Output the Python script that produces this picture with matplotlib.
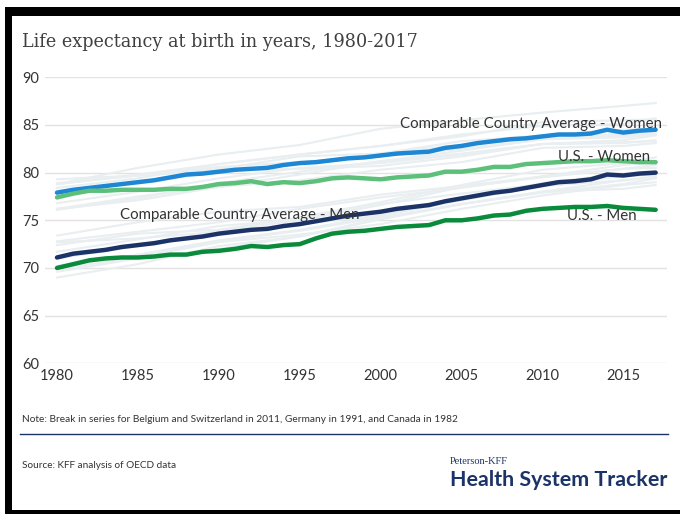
import numpy as np
import matplotlib
matplotlib.use("Agg")
from matplotlib import pyplot as plt
from matplotlib.patches import Rectangle

# years for the highlighted series
years = np.arange(1980, 2018)

cca_women = [77.9, 78.2, 78.4, 78.6, 78.8, 79.0, 79.2, 79.5, 79.8, 79.9,
             80.1, 80.3, 80.4, 80.5, 80.8, 81.0, 81.1, 81.3, 81.5, 81.6,
             81.8, 82.0, 82.1, 82.2, 82.6, 82.8, 83.1, 83.3, 83.5, 83.6,
             83.8, 84.0, 84.0, 84.1, 84.5, 84.2, 84.4, 84.5]
cca_men = [71.1, 71.5, 71.7, 71.9, 72.2, 72.4, 72.6, 72.9, 73.1, 73.3,
           73.6, 73.8, 74.0, 74.1, 74.4, 74.6, 74.9, 75.2, 75.5, 75.7,
           75.9, 76.2, 76.4, 76.6, 77.0, 77.3, 77.6, 77.9, 78.1, 78.4,
           78.7, 79.0, 79.1, 79.3, 79.8, 79.7, 79.9, 80.0]
us_women = [77.4, 77.8, 78.1, 78.1, 78.2, 78.2, 78.2, 78.3, 78.3, 78.5,
            78.8, 78.9, 79.1, 78.8, 79.0, 78.9, 79.1, 79.4, 79.5, 79.4,
            79.3, 79.5, 79.6, 79.7, 80.1, 80.1, 80.3, 80.6, 80.6, 80.9,
            81.0, 81.1, 81.2, 81.2, 81.3, 81.2, 81.1, 81.1]
us_men = [70.0, 70.4, 70.8, 71.0, 71.1, 71.1, 71.2, 71.4, 71.4, 71.7,
          71.8, 72.0, 72.3, 72.2, 72.4, 72.5, 73.1, 73.6, 73.8, 73.9,
          74.1, 74.3, 74.4, 74.5, 75.0, 75.0, 75.2, 75.5, 75.6, 76.0,
          76.2, 76.3, 76.4, 76.4, 76.5, 76.3, 76.2, 76.1]

# individual comparable countries (background lines)
country_years = [1980, 1985, 1990, 1995, 2000, 2005, 2010, 2015, 2017]
countries_women = {
    "Australia":   [78.1, 78.9, 80.1, 81.0, 82.0, 83.3, 83.9, 84.5, 84.6],
    "Austria":     [76.1, 77.3, 78.9, 80.1, 81.2, 82.3, 83.5, 83.7, 84.0],
    "Belgium":     [76.8, 78.0, 79.4, 80.5, 81.0, 81.9, 83.0, 83.4, 83.9],
    "Canada":      [78.9, 79.7, 80.6, 81.1, 81.7, 82.5, 83.5, 83.9, 84.0],
    "France":      [78.4, 79.4, 80.9, 81.9, 82.8, 83.8, 85.3, 85.5, 85.6],
    "Germany":     [76.2, 77.5, 78.5, 79.8, 81.2, 82.0, 83.0, 83.1, 83.4],
    "Japan":       [78.8, 80.5, 81.9, 82.9, 84.6, 85.5, 86.3, 87.0, 87.3],
    "Netherlands": [79.3, 79.7, 80.2, 80.4, 80.7, 81.7, 83.0, 83.2, 83.3],
    "Sweden":      [78.8, 79.7, 80.4, 81.7, 82.0, 82.9, 83.6, 84.1, 84.1],
    "Switzerland": [78.8, 79.8, 80.9, 81.9, 82.8, 84.0, 84.9, 85.1, 85.7],
    "UK":          [76.2, 77.1, 78.5, 79.2, 80.3, 81.1, 82.6, 82.8, 83.1],
}
countries_men = {
    "Australia":   [71.0, 72.3, 73.9, 75.0, 76.6, 78.5, 79.5, 80.4, 80.5],
    "Austria":     [69.0, 70.4, 72.3, 73.3, 75.2, 76.7, 77.9, 78.8, 79.4],
    "Belgium":     [69.9, 71.1, 72.7, 73.5, 74.6, 76.2, 77.6, 78.7, 79.0],
    "Canada":      [71.7, 73.0, 74.4, 75.1, 76.7, 77.8, 78.8, 79.6, 79.8],
    "France":      [70.2, 71.3, 72.8, 73.9, 75.3, 76.7, 78.0, 79.2, 79.6],
    "Germany":     [69.6, 71.0, 72.0, 73.3, 75.1, 76.7, 78.0, 78.3, 78.7],
    "Japan":       [73.4, 74.8, 75.9, 76.4, 77.7, 78.6, 79.6, 80.8, 81.1],
    "Netherlands": [72.7, 73.1, 73.8, 74.6, 75.5, 77.2, 78.9, 79.9, 80.2],
    "Sweden":      [72.8, 73.8, 74.8, 76.2, 77.4, 78.4, 79.6, 80.4, 80.8],
    "Switzerland": [72.4, 73.6, 74.0, 75.3, 76.9, 78.7, 80.3, 81.0, 81.6],
    "UK":          [70.2, 71.4, 72.9, 74.0, 75.5, 77.1, 78.6, 79.2, 79.5],
}

yticks = [60, 65, 70, 75, 80, 85, 90]
xticks = [1980, 1985, 1990, 1995, 2000, 2005, 2010, 2015]

navy = "#1c3368"
txt = "#333333"
sans = "Lato"

fig = plt.figure(figsize=(6.8, 5.14), dpi=100)
W, H = 680.0, 514.0
ax = fig.add_axes([45/W, 1-363.3/H, (667-45)/W, (363.3-77.3)/H])

for name, vals in countries_women.items():
    ax.plot(country_years, vals, color="#e9eef1", lw=1.5, zorder=1)
for name, vals in countries_men.items():
    ax.plot(country_years, vals, color="#e9eef1", lw=1.5, zorder=1)

ax.plot(years, cca_women, color="#1d87d3", lw=3.2, zorder=3, solid_capstyle="round")
ax.plot(years, us_women, color="#5cc07a", lw=3.2, zorder=3, solid_capstyle="round")
ax.plot(years, cca_men, color=navy, lw=3.2, zorder=3, solid_capstyle="round")
ax.plot(years, us_men, color="#0a8a3b", lw=3.2, zorder=3, solid_capstyle="round")

ax.text(2017.4, 85.1, "Comparable Country Average - Women", ha="right", va="center",
        fontsize=10.8, color=txt, family=sans, zorder=4)
ax.text(2016.65, 81.6, "U.S. - Women", ha="right", va="center",
        fontsize=10.8, color=txt, family=sans, zorder=4)
ax.text(1983.9, 75.6, "Comparable Country Average - Men", ha="left", va="center",
        fontsize=10.8, color=txt, family=sans, zorder=4)
ax.text(2015.85, 75.4, "U.S. - Men", ha="right", va="center",
        fontsize=10.8, color=txt, family=sans, zorder=4)

ax.set_xlim(1980 - 12/16.18, 1980 + 610/16.18)
ax.set_ylim(60, 90)
ax.set_yticks(yticks)
ax.set_xticks(xticks)
ax.grid(axis="y", color="#e2e2e2", lw=1)
ax.set_axisbelow(True)
for s in ax.spines.values():
    s.set_visible(False)
ax.tick_params(length=0, labelsize=10.5, labelcolor=txt, pad=4)
for lab in ax.get_xticklabels() + ax.get_yticklabels():
    lab.set_family(sans)

fig.text(22/W, 1-42/H, "Life expectancy at birth in years, 1980-2017", fontsize=12.7,
         family="DejaVu Serif", color="#404040", va="center")
fig.text(22/W, 1-420/H, "Note: Break in series for Belgium and Switzerland in 2011, Germany in 1991, and Canada in 1982",
         fontsize=7.3, family=sans, color=txt, va="center")
fig.add_artist(plt.Line2D([20/W, 668/W], [1-434/H, 1-434/H], color=navy, lw=1))
fig.text(22/W, 1-465/H, "Source: KFF analysis of OECD data", fontsize=7.2,
         family=sans, color=txt, va="center")
fig.text(450/W, 1-461/H, "Peterson-KFF", fontsize=7.5, family="Liberation Serif",
         color=navy, va="center")
fig.text(450/W, 1-480/H, "Health System Tracker", fontsize=15.4, family=sans,
         weight="bold", color=navy, va="center")

# black frame
fig.add_artist(Rectangle((5/W, 1-16/H), 1, 9/H, transform=fig.transFigure, color="black", lw=0))
fig.add_artist(Rectangle((5/W, 0), 7/W, 1-7/H, transform=fig.transFigure, color="black", lw=0))
fig.add_artist(Rectangle((5/W, 0), 1, 4/H, transform=fig.transFigure, color="black", lw=0))

fig.savefig("out.png", dpi=100)
